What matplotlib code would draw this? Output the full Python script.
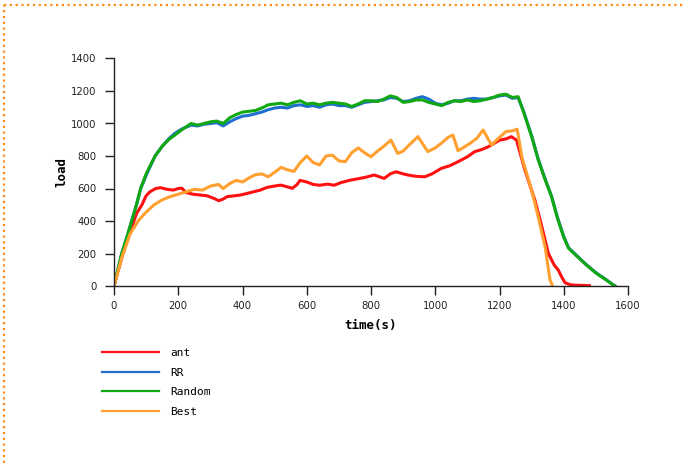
import matplotlib
matplotlib.use("Agg")
import matplotlib.pyplot as plt
from matplotlib.lines import Line2D

# series: time (s) and load
t_ant = [0, 25, 50, 70, 87, 100, 112, 130, 145, 165, 185, 200, 211, 225, 245, 268, 290, 310, 326,
         340, 352, 375, 394, 415, 435, 455, 477, 500, 519, 540, 555, 570, 579, 600, 620, 640, 665,
         685, 706, 737, 760, 785, 810, 841, 860, 878, 900, 915, 940, 967, 990, 1019, 1045, 1071,
         1100, 1123, 1145, 1165, 1185, 1201, 1220, 1237, 1253, 1279, 1310, 1330, 1352, 1370, 1383,
         1395, 1404, 1420, 1435, 1480]
ant = [0, 180, 330, 445, 500, 555, 580, 600, 605, 595, 590, 600, 602, 575, 565, 560, 555, 540, 525,
       535, 550, 555, 560, 570, 580, 590, 607, 615, 621, 610, 601, 625, 650, 640, 625, 620, 627,
       620, 636, 652, 660, 670, 683, 662, 690, 703, 690, 683, 675, 672, 690, 724, 740, 765,
       795, 827, 840, 857, 880, 898, 905, 919, 898, 714, 529, 380, 201, 130, 98,
       50, 20, 8, 5, 2]

t_rr = [0, 12, 24, 40, 55, 70, 83, 100, 115, 128, 150, 170, 190, 210, 240, 260, 280, 300, 320, 340,
        360, 380, 400, 420, 440, 460, 480, 500, 520, 540, 560, 580, 600, 620, 640, 660, 680, 700,
        720, 740, 760, 780, 800, 820, 840, 860, 880, 900, 920, 940, 960, 980, 1000, 1020, 1040,
        1060, 1080, 1100, 1120, 1140, 1160, 1180, 1200, 1220, 1240, 1258, 1275, 1300, 1320, 1340,
        1362, 1380, 1400, 1415, 1440, 1470, 1500, 1530, 1555, 1560]
rr = [0, 100, 200, 300, 400, 500, 600, 680, 745, 800, 860, 905, 940, 965, 990, 985, 995, 1000, 1005,
      985, 1010, 1030, 1045, 1050, 1060, 1070, 1085, 1095, 1100, 1095, 1110, 1115, 1105, 1110, 1100,
      1115, 1120, 1110, 1110, 1100, 1115, 1130, 1135, 1140, 1145, 1160, 1155, 1135, 1140, 1155,
      1165, 1150, 1125, 1115, 1125, 1140, 1140, 1150, 1155, 1150, 1150, 1160, 1170, 1175, 1155,
      1160, 1075, 925, 785, 670, 552, 425, 305, 235, 188, 132, 82, 42, 6, 0]

t_random = t_rr
random_ = [0, 100, 200, 300, 400, 500, 600, 690, 750, 800, 860, 900, 930, 960, 1000, 990, 1000, 1010,
           1015, 1000, 1035, 1055, 1070, 1075, 1080, 1095, 1115, 1120, 1125, 1115, 1130, 1140, 1120,
           1125, 1115, 1125, 1130, 1125, 1120, 1105, 1120, 1140, 1140, 1135, 1150, 1170, 1160, 1130,
           1135, 1145, 1145, 1130, 1120, 1110, 1130, 1140, 1135, 1145, 1135, 1140, 1150, 1160, 1175,
           1180, 1160, 1165, 1070, 920, 780, 665, 550, 420, 300, 232, 185, 130, 80, 40, 5, 0]

t_best = [0, 25, 50, 75, 100, 125, 150, 175, 200, 225, 250, 275, 300, 325, 340, 360, 380, 400, 420,
          440, 460, 480, 500, 520, 540, 560, 580, 600, 620, 640, 660, 680, 700, 720, 740, 760, 780,
          800, 820, 840, 862, 883, 900, 920, 946, 977, 1000, 1020, 1040, 1055, 1071, 1090, 1110,
          1130, 1149, 1175, 1200, 1220, 1240, 1255, 1270, 1300, 1320, 1342, 1357, 1365]
best = [0, 180, 320, 400, 455, 500, 530, 550, 565, 580, 595, 590, 615, 625, 600, 630, 650, 640, 665,
        685, 690, 672, 700, 730, 715, 705, 760, 800, 760, 745, 800, 805, 770, 765, 820, 850, 820,
        795, 830, 860, 898, 816, 830, 870, 919, 827, 850, 880, 915, 929, 832, 855, 880,
        910, 960, 868, 915, 950, 955, 965, 790, 590, 430, 240, 40, 0]

xticks = [0, 200, 400, 600, 800, 1000, 1200, 1400, 1600]
yticks = [0, 200, 400, 600, 800, 1000, 1200, 1400]

fig = plt.figure(figsize=(6.84, 4.63), dpi=100)
ax = fig.add_axes([114 / 684, 1 - 286 / 463, 514 / 684, 227.5 / 463])

ax.plot(t_ant, ant, color="#ff1010", lw=2.2, label="ant")
ax.plot(t_rr, rr, color="#1f6fd0", lw=2.2, label="RR")
ax.plot(t_random, random_, color="#12a812", lw=2.2, label="Random")
ax.plot(t_best, best, color="#ffa030", lw=2.2, label="Best")

ax.set_xlim(0, 1600)
ax.set_ylim(0, 1400)
ax.set_xticks(xticks)
ax.set_yticks(yticks)
ax.spines["top"].set_visible(False)
ax.spines["right"].set_visible(False)
for s in ("left", "bottom"):
    ax.spines[s].set_color("#222222")
    ax.spines[s].set_linewidth(1.0)
ax.tick_params(direction="out", length=6.5, width=1.0, color="#222222",
               labelsize=7.3, labelcolor="#222222", pad=4)
ax.tick_params(axis="y", pad=6)

ax.set_xlabel("time(s)", family="DejaVu Sans Mono", fontweight="bold", fontsize=9, labelpad=6)
ax.set_ylabel("load", family="DejaVu Sans Mono", fontweight="bold", fontsize=9, labelpad=2)

leg = ax.legend(loc="upper left", bbox_to_anchor=(101.7 / 684, 1 - 348 / 463),
                bbox_transform=fig.transFigure, frameon=False, borderpad=0, borderaxespad=0,
                handlelength=5.2, handletextpad=1.0, labelspacing=0.86,
                prop={"family": "DejaVu Sans Mono", "size": 8})
for h in leg.legend_handles:
    h.set_linewidth(1.6)

# dotted orange frame on the top and left
fig.add_artist(Line2D([4 / 684, 1], [1 - 5 / 463, 1 - 5 / 463], transform=fig.transFigure,
                      color="#ff8c1a", lw=1.6, linestyle=(0, (1, 1.6))))
fig.add_artist(Line2D([4 / 684, 4 / 684], [0, 1 - 5 / 463], transform=fig.transFigure,
                      color="#ff8c1a", lw=1.6, linestyle=(0, (1, 1.6))))

fig.savefig("out.png", dpi=100)
